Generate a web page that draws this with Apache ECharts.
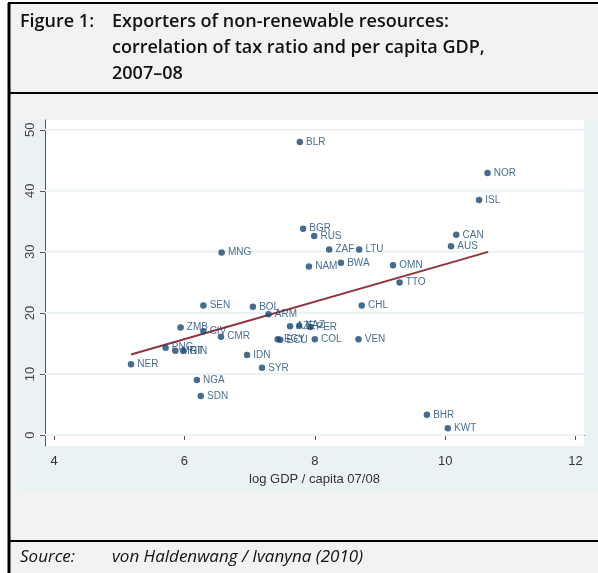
<!DOCTYPE html>
<html>
<head>
<meta charset="utf-8">
<script src="https://cdn.jsdelivr.net/npm/echarts@6/dist/echarts.min.js"></script>
<style>
  html, body { margin: 0; padding: 0; background: #fff; }
  #chart { width: 598px; height: 573px; }
</style>
</head>
<body>
<div id="chart"></div>
<script>
// 国家代码、人均 GDP（对数）与税收比率，按图上读数估计
const countries = ['BLR', 'NOR', 'ISL', 'BGR', 'RUS', 'CAN', 'ZAF', 'LTU', 'AUS', 'MNG',
  'NAM', 'BWA', 'OMN', 'TTO', 'SEN', 'BOL', 'CHL', 'ARM', 'ZMB', 'CIV', 'CMR',
  'AZE', 'KAZ', 'PER', 'EGY', 'ECU', 'COL', 'VEN', 'PNG', 'MRT', 'GIN', 'NER',
  'IDN', 'SYR', 'NGA', 'SDN', 'BHR', 'KWT'];
const logGdp = [7.77, 10.65, 10.52, 7.82, 7.99, 10.17, 8.22, 8.68, 10.09, 6.57,
  7.91, 8.40, 9.20, 9.30, 6.29, 7.05, 8.72, 7.29, 5.94, 6.29, 6.56,
  7.62, 7.76, 7.93, 7.43, 7.47, 8.00, 8.67, 5.71, 5.86, 5.98, 5.18,
  6.96, 7.19, 6.19, 6.25, 9.72, 10.04];
const taxRatio = [48.0, 42.9, 38.5, 33.8, 32.6, 32.8, 30.4, 30.4, 30.9, 29.9,
  27.6, 28.2, 27.8, 25.0, 21.2, 21.0, 21.2, 19.8, 17.6, 17.0, 16.1,
  17.8, 17.9, 17.7, 15.7, 15.6, 15.7, 15.7, 14.3, 13.8, 13.8, 11.6,
  13.1, 11.0, 9.0, 6.4, 3.3, 1.1];

// 拟合线两端
const fitX = [5.18, 10.66];
const fitY = [13.2, 30.0];

// 刻度
const xTicks = [4, 6, 8, 10, 12];
const yTicks = [0, 10, 20, 30, 40, 50];

const X_MIN = 3.86, X_MAX = 12.13;
const NAVY = '#1a476f';
const BG = '#f2f2f2';
const PANEL = '#eaf2f3';

const chart = echarts.init(document.getElementById('chart'));

const points = countries.map((c, i) => ({ name: c, value: [logGdp[i], taxRatio[i]] }));
const fitLine = fitX.map((x, i) => [x, fitY[i]]);

const line = (x1, y1, x2, y2, w) => ({
  type: 'line', silent: true, z: 10,
  shape: { x1, y1, x2, y2 },
  style: { stroke: '#000', lineWidth: w }
});
const text = (x, y, s, opt) => ({
  type: 'text', x, y, silent: true, z: 10,
  style: Object.assign({ text: s, fill: '#111', fontFamily: 'Open Sans', fontSize: 18, verticalAlign: 'middle' }, opt)
});

// 水平网格线：每个 y 刻度一条线
const gridSeries = yTicks.map(v => ({
  type: 'line', data: [[X_MIN, v], [X_MAX, v]], symbol: 'none', silent: true, z: 1,
  lineStyle: { color: PANEL, width: 2 }
}));

chart.setOption({
  backgroundColor: '#fff',
  animation: false,
  graphic: [
    // 背景区块
    { type: 'rect', shape: { x: 8, y: 3, width: 590, height: 570 }, style: { fill: BG }, z: -10, silent: true },
    { type: 'rect', shape: { x: 17, y: 119, width: 581, height: 372 }, style: { fill: PANEL }, z: -9, silent: true },
    // 外框
    line(8, 3, 598, 3, 2),
    line(9, 3, 9, 573, 3),
    line(8, 93, 598, 93, 2),
    line(8, 541, 598, 541, 2),
    // 标题
    text(20, 22, 'Figure 1:', { fontWeight: 600 }),
    text(112, 22, 'Exporters of non-renewable resources:', { fontWeight: 600 }),
    text(112, 48, 'correlation of tax ratio and per capita GDP,', { fontWeight: 600 }),
    text(112, 74, '2007–08', { fontWeight: 600 }),
    // 来源
    text(20, 557, 'Source:', { fontStyle: 'italic', fontSize: 17 }),
    text(112, 557, 'von Haldenwang / Ivanyna (2010)', { fontStyle: 'italic', fontSize: 17 })
  ],
  grid: {
    left: 45, right: 14, top: 120, bottom: 127,
    show: true, backgroundColor: '#fff', borderWidth: 0
  },
  xAxis: {
    type: 'value', min: X_MIN, max: X_MAX,
    name: 'log GDP / capita 07/08', nameLocation: 'middle', nameGap: 27,
    nameTextStyle: { color: '#333', fontSize: 13, fontFamily: 'Liberation Sans' },
    axisLine: { lineStyle: { color: '#000', width: 1 } },
    axisTick: { show: true, length: 5, customValues: xTicks, lineStyle: { color: '#555' } },
    axisLabel: { customValues: xTicks, color: '#333', fontSize: 13, fontFamily: 'Liberation Sans', margin: 9 },
    splitLine: { show: false }
  },
  yAxis: {
    type: 'value', min: -1.8, max: 51.6,
    axisLine: { show: true, lineStyle: { color: '#555', width: 1 } },
    axisTick: { show: true, length: 5, customValues: yTicks, lineStyle: { color: '#555' } },
    axisLabel: { customValues: yTicks, color: '#444', fontSize: 13, fontFamily: 'Liberation Sans', rotate: 90, margin: 8 },
    splitLine: { show: false }
  },
  series: gridSeries.concat([
    {
      type: 'line', data: fitLine, symbol: 'none', z: 3,
      lineStyle: { color: '#90353b', width: 2 }
    },
    {
      type: 'scatter', data: points, symbolSize: 6.5, z: 4,
      itemStyle: { color: NAVY },
      label: {
        show: true, position: 'right', distance: 3, formatter: '{b}',
        color: NAVY, fontSize: 10, fontFamily: 'Liberation Sans'
      },
      labelLayout: { hideOverlap: false }
    }
  ])
});
</script>
</body>
</html>
